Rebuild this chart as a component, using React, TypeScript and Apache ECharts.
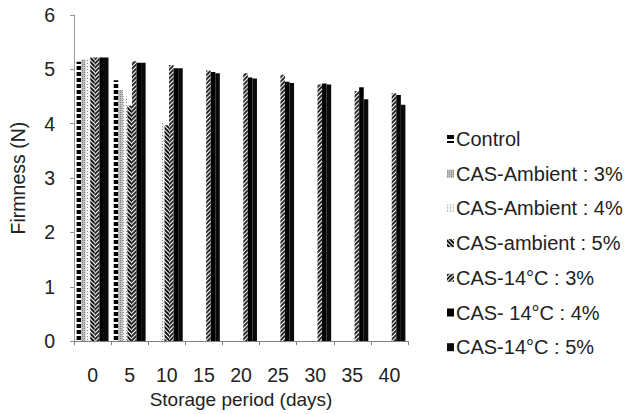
import React, { useEffect, useRef } from "react";
import * as echarts from "echarts";

const categories = ["0", "5", "10", "15", "20", "25", "30", "35", "40"];
const seriesNames = [
  "Control",
  "CAS-Ambient : 3%",
  "CAS-Ambient : 4%",
  "CAS-ambient : 5%",
  "CAS-14°C : 3%",
  "CAS- 14°C : 4%",
  "CAS-14°C : 5%",
];
const control = [5.14, 4.8, null, null, null, null, null, null, null];
const ambient3 = [5.18, 4.62, null, null, null, null, null, null, null];
const ambient4 = [5.2, 4.5, 4.05, null, null, null, null, null, null];
const ambient5 = [5.22, 4.33, 3.97, null, null, null, null, null, null];
const cold3 = [5.22, 5.15, 5.08, 4.98, 4.93, 4.9, 4.72, 4.6, 4.56];
const cold4 = [5.22, 5.12, 5.02, 4.95, 4.85, 4.77, 4.74, 4.67, 4.53];
const cold5 = [5.22, 5.12, 5.02, 4.93, 4.83, 4.75, 4.72, 4.45, 4.35];
const yTicks = [0, 1, 2, 3, 4, 5, 6];

const allData = [control, ambient3, ambient4, ambient5, cold3, cold4, cold5];

const styles: any[] = [
  {
    color: "#ffffff",
    decal: { symbol: "rect", symbolSize: 1, color: "#000000", dashArrayX: [5, 0], dashArrayY: [4, 2], rotation: 0 },
  },
  {
    color: "#c0c0c0",
    decal: { symbol: "rect", symbolSize: 1, color: "#808080", dashArrayX: [1, 1], dashArrayY: [1, 1], rotation: 0 },
  },
  {
    color: "#f4f4f4",
    decal: { symbol: "rect", symbolSize: 1, color: "#8c8c8c", dashArrayX: [1, 2], dashArrayY: [1, 2], rotation: 0 },
  },
  {
    color: "#ffffff",
    decal: { symbol: "rect", symbolSize: 1, color: "#111111", dashArrayX: [1, 0], dashArrayY: [2, 1], rotation: Math.PI / 4 },
  },
  {
    color: "#ffffff",
    decal: { symbol: "rect", symbolSize: 1, color: "#2a2a2a", dashArrayX: [1, 0], dashArrayY: [2, 1], rotation: -Math.PI / 4 },
  },
  { color: "#000000" },
  { color: "#0a0a0a" },
];

export default function App() {
  const ref = useRef<HTMLDivElement>(null);
  useEffect(() => {
    if (!ref.current) return;
    const chart = echarts.init(ref.current, undefined, { renderer: "svg" });
    const font = "Liberation Sans, Arial, Helvetica, sans-serif";
    chart.setOption({
      animation: false,
      backgroundColor: "#ffffff",
      textStyle: { fontFamily: font },
      grid: { left: 73, right: 224, top: 15, bottom: 72, containLabel: false },
      legend: {
        orient: "vertical",
        left: 442,
        top: 124,
        itemWidth: 7,
        itemHeight: 8,
        itemGap: 14.7,
        icon: "rect",
        data: seriesNames,
        textStyle: { fontSize: 20, color: "#222", fontFamily: font, lineHeight: 20, padding: [0, 0, 0, -3] },
      },
      xAxis: {
        type: "category",
        data: categories,
        name: "Storage period (days)",
        nameLocation: "middle",
        nameGap: 47,
        nameTextStyle: { fontSize: 19, color: "#222", fontFamily: font },
        axisLine: { lineStyle: { color: "#808080", width: 1 } },
        axisTick: { show: true, length: 4, lineStyle: { color: "#808080" } },
        axisLabel: { fontSize: 19.5, color: "#222", margin: 24, fontFamily: font },
      },
      yAxis: {
        type: "value",
        min: 0,
        max: 6,
        interval: 1,
        name: "Firmness (N)",
        nameLocation: "middle",
        nameGap: 46,
        nameTextStyle: { fontSize: 19.5, color: "#222", fontFamily: font },
        axisLine: { show: true, lineStyle: { color: "#999999", width: 1 } },
        axisTick: { show: true, length: 4, lineStyle: { color: "#999999" } },
        axisLabel: {
          fontSize: 19.5,
          color: "#222",
          margin: 19,
          fontFamily: font,
          formatter: (v: number) => (yTicks.includes(v) ? String(v) : ""),
        },
        splitLine: { show: false },
      },
      series: allData.map((d, i) => ({
        name: seriesNames[i],
        type: "bar",
        data: d,
        barGap: "0%",
        barCategoryGap: "14%",
        itemStyle: styles[i],
      })),
    });
    return () => chart.dispose();
  }, []);
  return <div ref={ref} style={{ width: 632, height: 414, position: "absolute", left: 0, top: 0 }} />;
}
